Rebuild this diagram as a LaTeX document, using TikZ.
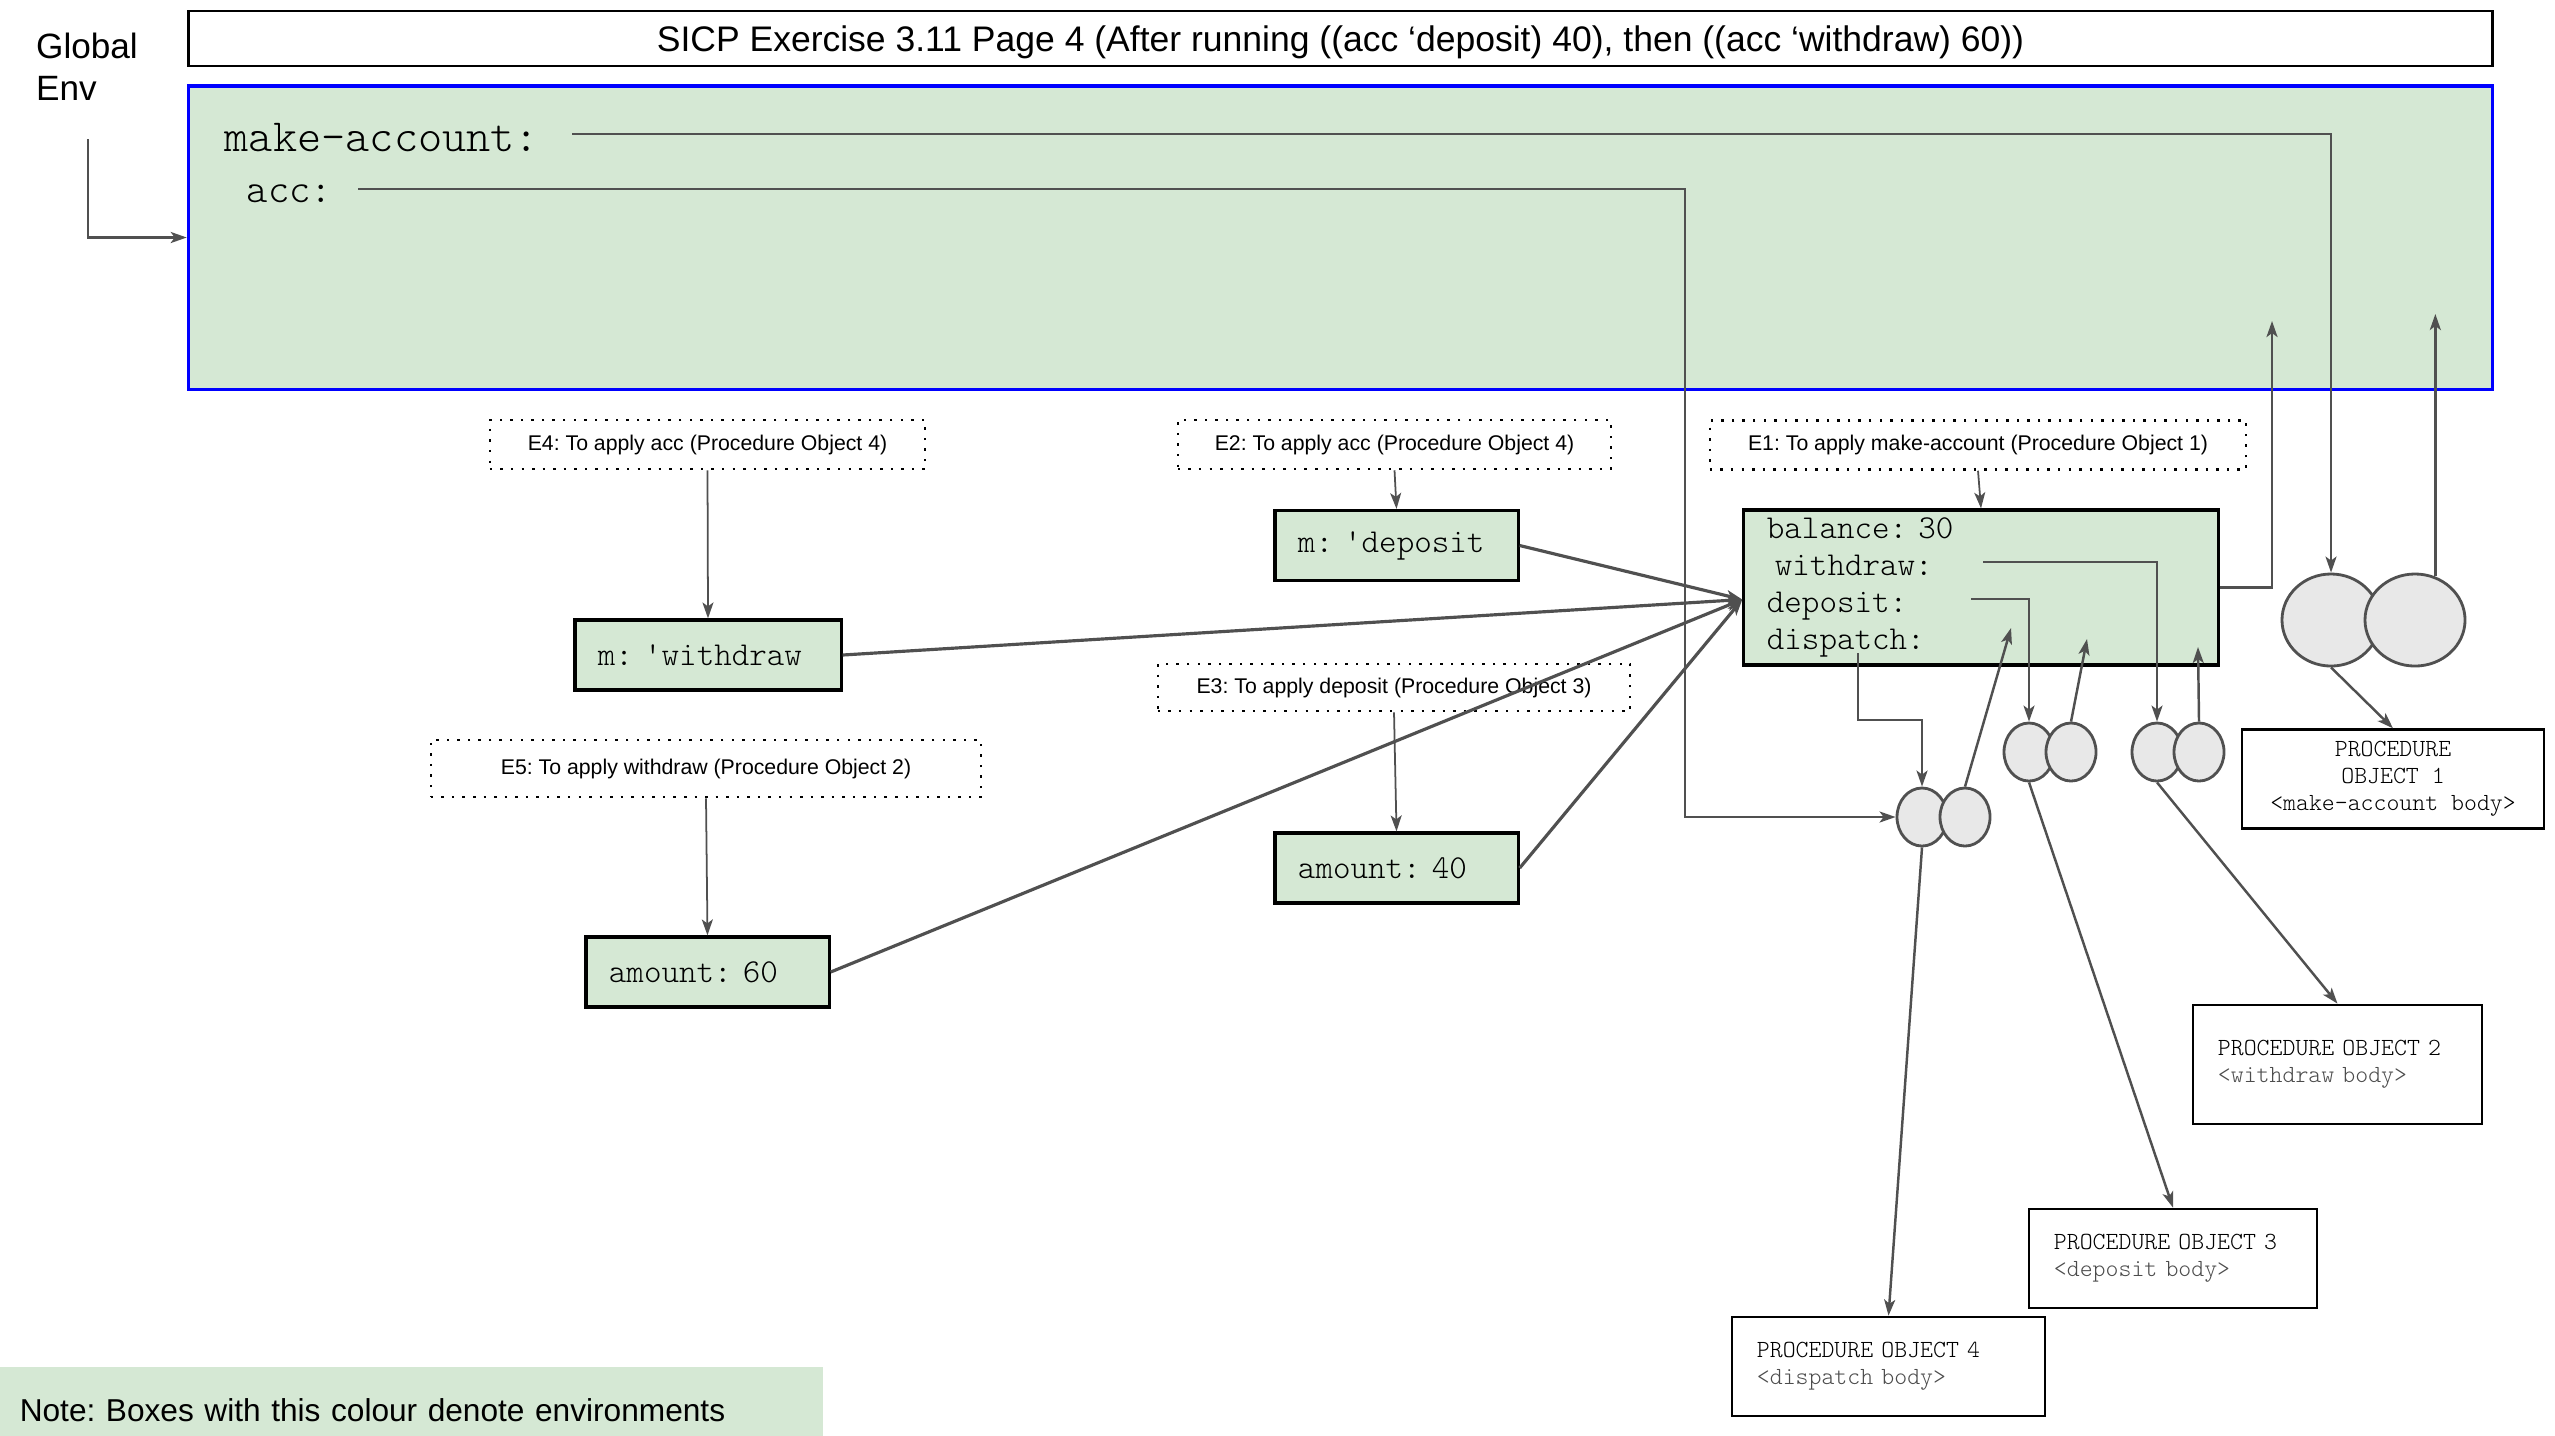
\documentclass[tikz,border=0pt]{standalone}
\usepackage{fontspec}
\setmainfont{Liberation Sans}
\newfontfamily\thinmono{Latin Modern Mono Light}
\usetikzlibrary{arrows.meta,positioning,calc,shapes.geometric}
\definecolor{envgreen}{HTML}{D5E8D4}
\definecolor{wire}{HTML}{505050}
\definecolor{bubble}{HTML}{E8E8E8}
\frenchspacing

\begin{document}
\begin{tikzpicture}[x=0.01cm,y=-0.01cm,
  env/.style={draw, line width=0.9pt, fill=envgreen, inner xsep=0.23cm,
              inner ysep=0pt, minimum height=0.7cm, align=left,
              font=\fontsize{9.5}{10.5}\selectfont\thinmono},
  lbl/.style={draw, line width=0.7pt, dash pattern=on 0.7pt off 2.3pt,
              minimum height=0.49cm, inner sep=0pt,
              font=\fontsize{6.05}{7}\selectfont},
  proc/.style={draw, line width=0.75pt, fill=white, inner xsep=0.25cm,
               minimum height=0.99cm, align=left,
               font=\fontsize{7}{7.7}\selectfont\thinmono},
  bub/.style={ellipse, draw=wire, line width=0.8pt, fill=bubble, inner sep=0pt,
              minimum width=0.5cm, minimum height=0.58cm},
  arr/.style={-{Stealth[length=1.6mm,width=1.1mm,inset=0.4mm]}, draw=wire,
              line width=0.7pt}]
\useasboundingbox (0,0) rectangle (2555,1435);
% ---- header and global environment ----
\node[draw, line width=0.8pt, minimum width=23.03cm, minimum height=0.55cm,
      text height=0.72em, text depth=0pt,
      font=\fontsize{10.1}{12}\selectfont] (title) at (1340.5,38.5)
      {SICP Exercise 3.11 Page 4 (After running ((acc ‘deposit) 40), then ((acc ‘withdraw) 60))};
\node[draw=blue, line width=0.9pt, fill=envgreen, minimum width=23.03cm,
      minimum height=3.03cm] (genv) at (1340.5,237.5) {};
\node[align=left, inner sep=0pt, font=\fontsize{10}{11.9}\selectfont]
      (glabel) at (87,67) {Global\\Env};
\node[anchor=base west, inner sep=0pt, font=\fontsize{13.1}{14}\selectfont\thinmono]
      (mkname) at (224,151) {make-account:};
\node[anchor=base west, inner sep=0pt, font=\fontsize{11.6}{13}\selectfont\thinmono]
      (accname) at (246,202) {acc:};
% ---- frame labels ----
\node[lbl, minimum width=4.35cm] (e4lab) at (707.5,444.5) {E4: To apply acc (Procedure Object 4)};
\node[lbl, minimum width=4.33cm] (e2lab) at (1394.5,444.5) {E2: To apply acc (Procedure Object 4)};
\node[lbl, minimum width=5.36cm] (e1lab) at (1978,445) {E1: To apply make-account (Procedure Object 1)};
\node[lbl, minimum width=4.72cm, minimum height=0.47cm] (e3lab) at (1394,687.5)
      {E3: To apply deposit (Procedure Object 3)};
\node[lbl, minimum width=5.50cm, minimum height=0.57cm] (e5lab) at (706,768.5)
      {E5: To apply withdraw (Procedure Object 2)};
% ---- environments ----
\node[env, text width=1.97cm] (mdep) at (1396.5,545.5) {m: \textquotesingle deposit};
\node[env, text width=2.20cm] (mwd) at (708,655) {m: \textquotesingle withdraw};
\node[env, text width=1.97cm] (amt40) at (1396.5,868) {amount: 40};
\node[env, text width=1.97cm] (amt60) at (707.5,972) {amount: 60};
\node[env, text width=4.28cm, minimum height=1.55cm] (e1) at (1981,587.5)
      {balance: 30\\\hspace*{0.08cm}withdraw:\\deposit:\\dispatch:};
% ---- procedure pairs ----
\node[bub, minimum width=0.98cm, minimum height=0.92cm] (p1a) at (2331,620) {};
\node[bub, minimum width=1.0cm, minimum height=0.92cm] (p1b) at (2415,620) {};
\node[bub] (p4a) at (1922,817) {};
\node[bub] (p4b) at (1965,817) {};
\node[bub] (p2a) at (2029,752) {};
\node[bub] (p2b) at (2071,752) {};
\node[bub] (p3a) at (2157,752) {};
\node[bub] (p3b) at (2199,752) {};
% ---- procedure objects ----
\node[proc, align=center, minimum width=3.02cm, minimum height=0.92cm] (po1) at (2393,779)
      {PROCEDURE\\OBJECT 1\\<make-account body>};
\node[proc, text width=2.39cm, minimum height=1.19cm] (po2) at (2337.5,1064.5)
      {PROCEDURE OBJECT 2\\\textcolor{black!70}{<withdraw body>}};
\node[proc, text width=2.38cm] (po3) at (2173,1258.5)
      {PROCEDURE OBJECT 3\\\textcolor{black!70}{<deposit body>}};
\node[proc, text width=2.63cm] (po4) at (1888.5,1366.5)
      {PROCEDURE OBJECT 4\\\textcolor{black!70}{<dispatch body>}};
% ---- line ends ----
\coordinate (glfrom) at (88,139);
\coordinate (mkfrom) at (572,134);
\coordinate (accfrom) at (358,189);
\coordinate (accbend) at (1685,189);
\coordinate (e1back) at (2272,321);
\coordinate (p1back) at (2436,314);
\coordinate (wdfrom) at (1983,562);
\coordinate (dpfrom) at (1971,599);
\coordinate (dsfrom) at (1858,653);
\coordinate (dsbend) at (1858,720);
\coordinate (p4back) at (2011,628);
\coordinate (p2back) at (2087,639);
\coordinate (p3back) at (2198,647);
\coordinate (e1in) at ($(e1.west)+(0,12)$);
% ---- global bindings ----
\draw[arr] (glfrom) |- (genv.west);
\draw[arr] (mkfrom) -| (p1a.north);
\draw[arr] (accfrom) -- (accbend) |- (p4a.west);
\draw[arr] (p1a.south) -- (po1.north);
\draw[arr] (p1b.65) -- (p1b.65 |- p1back);
\draw[arr] (e1.east) -| (e1back);
% ---- bindings in E1 ----
\draw[arr] (wdfrom) -| (p3a.north);
\draw[arr] (dpfrom) -| (p2a.north);
\draw[arr] (dsfrom) -- (dsbend) -| (p4a.north);
\draw[arr] (p4b.north) -- (p4back);
\draw[arr] (p2b.north) -- (p2back);
\draw[arr] (p3b.north) -- (p3back);
\draw[arr] (p4a.south) -- (po4.north);
\draw[arr] (p2a.south) -- (po3.north);
\draw[arr] (p3a.south) -- (po2.north);
% ---- frames and their enclosing environment ----
\draw[arr, line width=0.5pt] (e1lab.south) -- (e1.north);
\draw[arr, line width=0.5pt] (e4lab.south) -- (mwd.north);
\draw[arr, line width=0.5pt] (e2lab.south) -- (mdep.north);
\draw[arr, line width=0.5pt] (e3lab.south) -- (amt40.north);
\draw[arr, line width=0.5pt] (e5lab.south) -- (amt60.north);
\draw[arr, line width=0.9pt] (mdep.east) -- (e1in);
\draw[arr, line width=0.9pt] (mwd.east) -- (e1in);
\draw[arr, line width=0.9pt] (amt40.east) -- (e1in);
\draw[arr, line width=0.9pt] (amt60.east) -- (e1in);
% ---- legend ----
\node[fill=envgreen, minimum height=0.86cm, text width=7.83cm, inner xsep=0.2cm,
      align=left, font=\fontsize{9}{11}\selectfont] (note) at (411.5,1410)
      {Note: Boxes with this colour denote environments};
\end{tikzpicture}
\end{document}
